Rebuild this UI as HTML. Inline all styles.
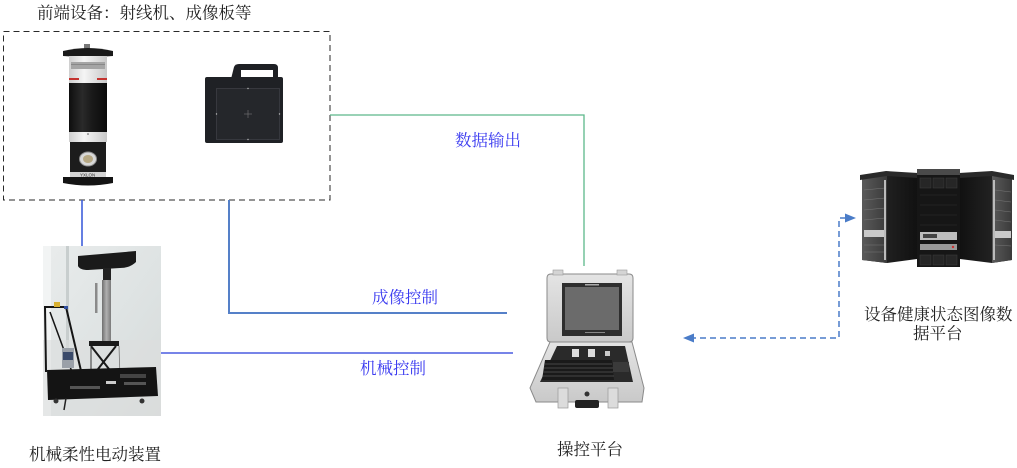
<!DOCTYPE html>
<html><head><meta charset="utf-8">
<style>
html,body{margin:0;padding:0;background:#fff;}
svg{display:block;}
text{font-family:"Liberation Serif","Noto Serif CJK SC","Noto Sans CJK SC",serif;font-size:16.5px;}
</style></head>
<body>
<svg width="1017" height="468" viewBox="0 0 1017 468" xmlns="http://www.w3.org/2000/svg">
<defs>
 <linearGradient id="bodyG" x1="0" x2="1" y1="0" y2="0">
  <stop offset="0" stop-color="#0e0e0e"/><stop offset="0.35" stop-color="#2a2a2a"/><stop offset="0.6" stop-color="#1a1a1a"/><stop offset="1" stop-color="#0a0a0a"/>
 </linearGradient>
 <linearGradient id="whiteG" x1="0" x2="1" y1="0" y2="0">
  <stop offset="0" stop-color="#cfcfcf"/><stop offset="0.4" stop-color="#f5f5f5"/><stop offset="1" stop-color="#c8c8c8"/>
 </linearGradient>
 <linearGradient id="photoBg" x1="0" x2="1" y1="0" y2="1">
  <stop offset="0" stop-color="#e9ecec"/><stop offset="0.6" stop-color="#dde2e2"/><stop offset="1" stop-color="#d6dad9"/>
 </linearGradient>
 <linearGradient id="poleG" x1="0" x2="1">
  <stop offset="0" stop-color="#6f6f6f"/><stop offset="0.5" stop-color="#b0b0b0"/><stop offset="1" stop-color="#7a7a7a"/>
 </linearGradient>
 <linearGradient id="sideL" x1="0" x2="1">
  <stop offset="0" stop-color="#2c2c2c"/><stop offset="1" stop-color="#111"/>
 </linearGradient>
 <linearGradient id="sideR" x1="0" x2="1">
  <stop offset="0" stop-color="#111"/><stop offset="1" stop-color="#2c2c2c"/>
 </linearGradient>
 <linearGradient id="frontS" x1="0" x2="1">
  <stop offset="0" stop-color="#5a5a5a"/><stop offset="1" stop-color="#3a3a3a"/>
 </linearGradient>
 <linearGradient id="caseG" x1="0" x2="0" y1="0" y2="1">
  <stop offset="0" stop-color="#e4e4e4"/><stop offset="1" stop-color="#c9c9c9"/>
 </linearGradient>
</defs>

<!-- Title -->
<text x="37" y="18.5" fill="#222">前端设备：射线机、成像板等</text>

<!-- dashed frame -->
<rect x="3.5" y="31.5" width="326.5" height="168.5" fill="none" stroke="#2a2a2a" stroke-width="1" stroke-dasharray="6 4"/>

<!-- X-ray tube -->
<g>
 <rect x="84" y="44" width="6" height="5" fill="#777"/>
 <path d="M63,51 Q88,45 113,51 L113,56 Q88,58 63,56 Z" fill="#1a1a1a"/>
 <rect x="69" y="56" width="38" height="27" fill="url(#whiteG)"/>
 <rect x="71" y="62" width="34" height="7" fill="#a5a5a5"/>
 <rect x="71" y="64" width="34" height="1" fill="#888"/>
 <rect x="69" y="78" width="10" height="2" fill="#c43430"/>
 <rect x="97" y="78" width="10" height="2" fill="#c43430"/>
 <rect x="69" y="83" width="38" height="49" fill="url(#bodyG)"/>
 <rect x="69" y="132" width="38" height="10" fill="url(#whiteG)"/>
 <circle cx="88" cy="134" r="0.8" fill="#555"/>
 <rect x="70" y="142" width="36" height="31" fill="#1c1c1c"/>
 <ellipse cx="88" cy="159" rx="8.5" ry="7" fill="#d8d8d8" stroke="#8a8a8a" stroke-width="1"/>
 <ellipse cx="88" cy="159" rx="5" ry="4" fill="#b6a884"/>
 <rect x="70" y="172" width="36" height="5" fill="#d4d4d4"/>
 <text x="80" y="176.5" style="font-size:4.5px;font-family:'Liberation Sans',sans-serif" fill="#333">YXLON</text>
 <path d="M63,177 L113,177 L113,183 Q88,188 63,183 Z" fill="#141414"/>
</g>

<!-- Flat panel -->
<g>
 <path d="M231,79 L234,67 Q235,64 239,64 L274,64 Q278,64 278,68 L278,79 Z" fill="#1e2024"/>
 <rect x="241" y="70" width="32" height="8" fill="#fff"/>
 <rect x="205" y="77" width="78" height="66" rx="2" fill="#1f2125"/>
 <rect x="216.5" y="88.5" width="63" height="51" fill="#25272b" stroke="#3d3f44" stroke-width="0.8"/>
 <line x1="244" y1="114" x2="252" y2="114" stroke="#777" stroke-width="0.6"/>
 <line x1="248" y1="110" x2="248" y2="118" stroke="#777" stroke-width="0.6"/>
 <circle cx="248" cy="88.5" r="0.7" fill="#bbb"/><circle cx="248" cy="139.5" r="0.7" fill="#bbb"/>
 <circle cx="216.5" cy="114" r="0.7" fill="#bbb"/><circle cx="279.5" cy="114" r="0.7" fill="#bbb"/>
</g>

<!-- Connectors -->
<line x1="82" y1="200" x2="82" y2="246" stroke="#3f5fdb" stroke-width="1.6"/>
<polyline points="229,200 229,313 507,313" fill="none" stroke="#5580c8" stroke-width="2"/>
<line x1="161" y1="353" x2="513" y2="353" stroke="#4a5ce0" stroke-width="1.6"/>
<polyline points="330,115 584,115 584,266" fill="none" stroke="#5cb88a" stroke-width="1.3"/>
<polyline points="846,218 839,218 839,338 692,338" fill="none" stroke="#4a7cc8" stroke-width="1.5" stroke-dasharray="6 4"/>
<polygon points="856,218 845,213.5 845,222.5" fill="#4a7cc8"/>
<polygon points="683,338 694,333.5 694,342.5" fill="#4a7cc8"/>

<!-- Connector labels -->
<text x="455" y="146" fill="#3b3bf0">数据输出</text>
<text x="372" y="303" fill="#3b3bf0">成像控制</text>
<text x="360" y="374" fill="#3b3bf0">机械控制</text>

<!-- Mechanical device photo -->
<g>
 <rect x="43" y="246" width="118" height="170" fill="url(#photoBg)"/>
 <rect x="43" y="246" width="8" height="170" fill="#f2f4f4"/>
 <rect x="66" y="246" width="3" height="110" fill="#c8cece"/>
 <rect x="43" y="340" width="118" height="76" fill="#dcdede" opacity="0.6"/>
 <!-- beam -->
 <path d="M78,256 L136,251 L136,262 Q130,268 120,268 L88,270 Q80,270 78,266 Z" fill="#1a1a1a"/>
 <rect x="103" y="268" width="8" height="12" fill="#222"/>
 <rect x="102" y="280" width="9" height="65" fill="url(#poleG)"/>
 <rect x="95" y="283" width="2.5" height="30" fill="#8a8a8a"/>
 <!-- scissor -->
 <rect x="89" y="341" width="30" height="5" fill="#1a1a1a"/>
 <line x1="91" y1="346" x2="116" y2="378" stroke="#1a1a1a" stroke-width="2"/>
 <line x1="116" y1="346" x2="91" y2="378" stroke="#1a1a1a" stroke-width="2"/>
 <line x1="91" y1="346" x2="91" y2="372" stroke="#333" stroke-width="1"/>
 <line x1="119" y1="346" x2="120" y2="378" stroke="#777" stroke-width="0.8"/>
 <!-- trolley handle -->
 <polyline points="46,372 45,307 66,307 82,375" fill="none" stroke="#151515" stroke-width="2"/>
 <line x1="50" y1="312" x2="72" y2="372" stroke="#151515" stroke-width="1.5"/>
 <rect x="54" y="302" width="6" height="5" fill="#d8b030"/>
 <rect x="64" y="306" width="4" height="3" fill="#3050a0"/>
 <!-- can -->
 <rect x="62" y="348" width="12" height="20" fill="#9aa0a8"/>
 <rect x="63" y="352" width="10" height="8" fill="#3a4a6a"/>
 <!-- base -->
 <path d="M47,370 L156,367 L158,396 L48,400 Z" fill="#141414"/>
 <rect x="120" y="374" width="26" height="4" fill="#444"/>
 <rect x="124" y="382" width="22" height="3" fill="#555"/>
 <rect x="106" y="381" width="10" height="3" fill="#ccc"/>
 <rect x="70" y="386" width="30" height="3" fill="#555"/>
 <circle cx="56" cy="401" r="2.5" fill="#333"/>
 <circle cx="142" cy="401" r="2.5" fill="#333"/>
 <line x1="66" y1="398" x2="64" y2="410" stroke="#222" stroke-width="1.5"/>
</g>
<text x="29" y="460" fill="#222">机械柔性电动装置</text>

<!-- Control platform -->
<g>
 <!-- lid -->
 <path d="M547,278 Q547,274 551,274 L629,274 Q633,274 633,278 L633,338 Q633,342 629,342 L551,342 Q547,342 547,338 Z" fill="url(#caseG)" stroke="#8a8a8a" stroke-width="1"/>
 <rect x="553" y="270" width="10" height="5" fill="#d4d4d4" stroke="#999" stroke-width="0.6"/>
 <rect x="617" y="270" width="10" height="5" fill="#d4d4d4" stroke="#999" stroke-width="0.6"/>
 <rect x="562" y="283" width="60" height="53" fill="#2e2e2e"/>
 <rect x="565" y="287" width="54" height="43" fill="#6b6b6b"/>
 <rect x="585" y="284" width="14" height="1.5" fill="#aaa"/>
 <rect x="585" y="332" width="20" height="1" fill="#888"/>
 <!-- base -->
 <path d="M550,342 L632,342 L644,388 L642,402 L536,402 L530,388 Z" fill="url(#caseG)" stroke="#8a8a8a" stroke-width="1"/>
 <path d="M557,346 L625,346 L633,382 L540,382 Z" fill="#2a2a2a"/>
 <rect x="572" y="349" width="7" height="8" fill="#ddd"/>
 <rect x="588" y="349" width="7" height="8" fill="#ddd"/>
 <rect x="605" y="351" width="5" height="5" fill="#ccc"/>
 <path d="M545,360 L612,360 L614,380 L542,380 Z" fill="#1a1a1a"/>
 <g stroke="#555" stroke-width="0.7">
  <line x1="545" y1="364" x2="612" y2="364"/>
  <line x1="544" y1="368" x2="613" y2="368"/>
  <line x1="543" y1="372" x2="613" y2="372"/>
  <line x1="543" y1="376" x2="614" y2="376"/>
 </g>
 <rect x="613" y="362" width="16" height="10" fill="#3a3a3a"/>
 <!-- latches & handle -->
 <rect x="558" y="388" width="10" height="20" fill="#dcdcdc" stroke="#999" stroke-width="0.7"/>
 <rect x="608" y="388" width="10" height="20" fill="#dcdcdc" stroke="#999" stroke-width="0.7"/>
 <rect x="575" y="400" width="24" height="8" rx="2" fill="#222"/>
 <circle cx="587" cy="394" r="2.5" fill="#333"/>
</g>
<text x="557" y="455" fill="#222">操控平台</text>

<!-- Servers -->
<g>
 <!-- left server -->
 <path d="M862,178 L887,174 L917,176 L917,259 L887,263 L862,260 Z" fill="url(#sideL)"/>
 <path d="M862,178 L887,174 L887,263 L862,260 Z" fill="url(#frontS)"/>
 <path d="M860,175 L886,171 L918,173 L918,178 L887,176 L860,180 Z" fill="#2a2a2a"/>
 <g stroke="#777" stroke-width="0.6">
  <line x1="864" y1="190" x2="885" y2="188"/><line x1="864" y1="200" x2="885" y2="198"/>
  <line x1="864" y1="210" x2="885" y2="208"/><line x1="864" y1="220" x2="885" y2="218"/>
  <line x1="864" y1="245" x2="885" y2="245"/><line x1="864" y1="252" x2="885" y2="252"/>
 </g>
 <rect x="864" y="230" width="21" height="7" fill="#c9c9c9"/>
 <rect x="884" y="180" width="2" height="80" fill="#bbb"/>
 <!-- right server -->
 <path d="M960,176 L992,174 L1012,178 L1012,260 L992,263 L960,259 Z" fill="url(#sideR)"/>
 <path d="M992,174 L1012,178 L1012,260 L992,263 Z" fill="url(#frontS)"/>
 <path d="M959,173 L992,171 L1014,175 L1014,180 L992,176 L959,178 Z" fill="#2a2a2a"/>
 <rect x="993" y="180" width="2" height="80" fill="#bbb"/>
 <g stroke="#777" stroke-width="0.6">
  <line x1="995" y1="190" x2="1011" y2="192"/><line x1="995" y1="200" x2="1011" y2="202"/>
  <line x1="995" y1="210" x2="1011" y2="212"/><line x1="995" y1="220" x2="1011" y2="222"/>
  <line x1="995" y1="245" x2="1011" y2="246"/>
 </g>
 <rect x="995" y="231" width="16" height="7" fill="#c9c9c9"/>
 <!-- center server -->
 <rect x="917" y="169" width="43" height="98" fill="#161616"/>
 <rect x="917" y="169" width="43" height="6" fill="#4a4a4a"/>
 <g fill="#262626" stroke="#3a3a3a" stroke-width="0.6">
  <rect x="920" y="178" width="11" height="10"/><rect x="933" y="178" width="11" height="10"/><rect x="946" y="178" width="11" height="10"/>
  <rect x="920" y="255" width="11" height="10"/><rect x="933" y="255" width="11" height="10"/><rect x="946" y="255" width="11" height="10"/>
 </g>
 <g stroke="#2e2e2e" stroke-width="0.6">
  <line x1="920" y1="195" x2="957" y2="195"/><line x1="920" y1="205" x2="957" y2="205"/>
  <line x1="920" y1="215" x2="957" y2="215"/><line x1="920" y1="225" x2="957" y2="225"/>
 </g>
 <rect x="920" y="232" width="37" height="8" fill="#bdbdbd"/>
 <rect x="923" y="234" width="14" height="4" fill="#444"/>
 <rect x="920" y="244" width="37" height="6" fill="#9a9a9a"/>
 <circle cx="953" cy="247" r="1.2" fill="#c33"/>
</g>
<text x="864" y="320" fill="#222">设备健康状态图像数</text>
<text x="913" y="339" fill="#222">据平台</text>
</svg>
</body></html>
